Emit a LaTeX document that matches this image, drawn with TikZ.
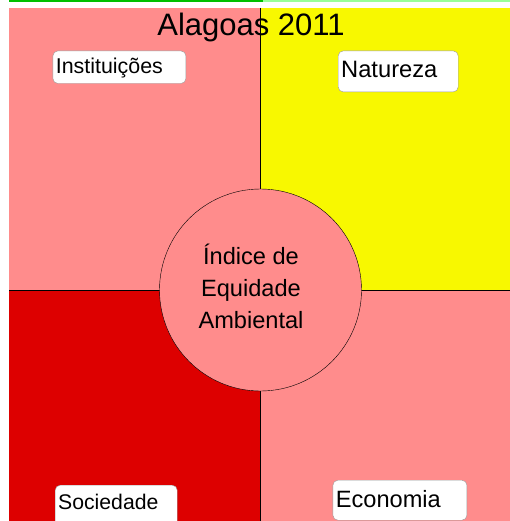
\documentclass[tikz,border=0pt]{standalone}
\usepackage{fontspec}
\setmainfont{Liberation Sans}
\usetikzlibrary{positioning}
\definecolor {rosa}{RGB}{255,140,140}
\definecolor {amarelo}{RGB}{248,248,0}
\definecolor {vermelho}{RGB}{221,0,0}
\definecolor {verde}{RGB}{0,192,0}
\definecolor {verdeclaro}{RGB}{153,255,153}

\begin{document}
\begin{tikzpicture}[x = 1pt, y = -1pt, thin,
                rotulo/.style ={draw = gray!80, fill = white, rounded corners = 5pt, anchor = north west,
                align = left, inner xsep = 3pt, inner ysep = 0pt, text = black},
                indice/.style ={circle, draw = black, fill = rosa, minimum size = 202pt, inner sep = 0pt}]

            \useasboundingbox (0, 0) rectangle (510, 521);
            \begin{scope}
            \clip (0, 0) rectangle (510, 521);

            %barra superior
            \fill[verde] (9, 0) rectangle (263, 2);
            \fill[verdeclaro] (263, 0) rectangle (510, 2);

            %quadrantes
            \fill[rosa] (9, 8) rectangle (260, 290);
            \fill[amarelo] (260, 8) rectangle (510, 290);
            \fill[vermelho] (9, 290) rectangle (260, 521);
            \fill[rosa] (260, 290) rectangle (510, 521);
            \draw (260, 8) -- (260, 521);
            \draw (9, 290) -- (510, 290);

            \node[font = \fontsize{31}{36}\selectfont] (titulo) at (251, 27) {Alagoas 2011};

            \node[indice] (circ) at (260.5, 290) {};
            \node[align = center, font = \fontsize{23.6}{32}\selectfont] (txt)
                at ([xshift = -9.5pt, yshift = 4pt] circ.center) {Índice de\\Equidade\\Ambiental};

            \node[rotulo, text width = 127pt, text height = 22.3pt, text depth = 10.3pt,
                font = \fontsize{21.4}{24}\selectfont] (inst) at (52.7, 50.7) {Instituições};
            \node[rotulo, text width = 114pt, text height = 26.6pt, text depth = 14.4pt,
                font = \fontsize{23.7}{26}\selectfont] (nat) at (338, 50.7) {Natureza};
            \node[rotulo, text width = 116pt, text height = 24pt, text depth = 17pt,
                font = \fontsize{21.2}{24}\selectfont] (soc) at (55, 485) {Sociedade};
            \node[rotulo, text width = 128pt, text height = 27pt, text depth = 13pt,
                font = \fontsize{23.6}{26}\selectfont] (eco) at (332.7, 480) {Economia};
            \end{scope}
    \end{tikzpicture}
\end{document}
